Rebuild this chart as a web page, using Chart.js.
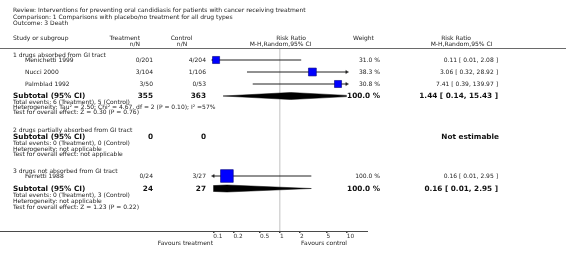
<!DOCTYPE html>
<html>
<head>
<meta charset="utf-8">
<script src="https://cdn.jsdelivr.net/npm/chart.js@4"></script>
<style>
  html, body { margin: 0; padding: 0; background: #fff; }
  #wrap { position: relative; width: 566px; height: 261px; overflow: hidden;
          font-family: "DejaVu Sans", sans-serif; color: #222; }
  #plot { position: absolute; left: 0; top: 0; }
  .t { position: absolute; white-space: nowrap; font-size: 6px; line-height: 1; }
  .b { font-weight: bold; font-size: 7.3px; color: #111; }
  .rule { position: absolute; left: 0; height: 1px; }
</style>
</head>
<body>
<div id="wrap">
  <canvas id="plot" width="566" height="261"></canvas>
</div>
<script>
// ---- data ----
const titleLines = [
  'Review:  Interventions for preventing oral candidiasis for patients with cancer receiving treatment',
  'Comparison:  1 Comparisons with placebo/no treatment for all drug types',
  'Outcome:  3 Death'
];
const groups = ['1 drugs absorbed from GI tract', '2 drugs partially absorbed from GI tract', '3 drugs not absorbed from GI tract'];

const studies = ['Menichetti 1999', 'Nucci 2000', 'Palmblad 1992', 'Ferretti 1988'];
const treatEvents = [0, 3, 3, 0];
const treatTotal = [201, 104, 50, 24];
const ctrlEvents = [4, 1, 0, 3];
const ctrlTotal = [204, 106, 53, 27];
const weights = [31.0, 38.3, 30.8, 100.0];
const riskRatio = [0.11, 3.06, 7.41, 0.16];
const ciLow = [0.01, 0.32, 0.39, 0.01];
const ciHigh = [2.08, 28.92, 139.97, 2.95];

const subTreatTotal = [355, 0, 24];
const subCtrlTotal = [363, 0, 27];
const subTreatEvents = [6, 0, 0];
const subCtrlEvents = [5, 0, 3];
const subWeight = [100.0, null, 100.0];
const subRR = [1.44, null, 0.16];
const subLow = [0.14, null, 0.01];
const subHigh = [15.43, null, 2.95];
const heterogeneity = [
  'Heterogeneity: Tau\u00b2 = 2.50; Chi\u00b2 = 4.67, df = 2 (P = 0.10); I\u00b2 =57%',
  'Heterogeneity: not applicable',
  'Heterogeneity: not applicable'
];
const overallEffect = [
  'Test for overall effect: Z = 0.30 (P = 0.76)',
  'Test for overall effect: not applicable',
  'Test for overall effect: Z = 1.23 (P = 0.22)'
];
const axisTicks = [0.1, 0.2, 0.5, 1, 2, 5, 10];
const favours = ['Favours treatment', 'Favours control'];

// ---- layout (row centres in px, column anchors) ----
const W = 566;
const titleY = [10, 16.5, 23];
const headY = [38, 44];
const groupY = [55, 130, 171];
const studyY = [60, 72, 84, 176];
const subY = [96, 136.5, 188.5];
const eventsY = [102, 143, 195];
const hetY = [107, 148.5, 201];
const testY = [112, 154, 207];
const AXIS_Y = 231;
const X_MIN = 0.1, X_MAX = 10;
const FS = 6, FSB = 7.3;
const BOX_MAX = 12.7;   // side of a 100% weight box
const DIA_H = 3.5;      // half height of diamonds

const wrap = document.getElementById('wrap');

function put(text, x, yc, align, bold) {
  const el = document.createElement('div');
  el.className = bold ? 't b' : 't';
  el.textContent = text;
  const size = bold ? FSB : FS;
  el.style.top = (yc - 0.48 * size) + 'px';
  if (align === 'right') {
    el.style.right = (W - x) + 'px';
  } else if (align === 'center') {
    el.style.left = x + 'px';
    el.style.transform = 'translateX(-50%)';
  } else {
    el.style.left = x + 'px';
  }
  wrap.appendChild(el);
}

function rule(y, width, color) {
  const d = document.createElement('div');
  d.className = 'rule';
  d.style.top = y + 'px';
  d.style.width = width + 'px';
  d.style.background = color;
  wrap.appendChild(d);
}

const fmt = v => v.toFixed(2);
const ciText = (rr, lo, hi) => `${fmt(rr)} [ ${fmt(lo)}, ${fmt(hi)} ]`;

// title + header
titleLines.forEach((s, i) => put(s, 13, titleY[i], 'left'));
put('Study or subgroup', 13, headY[0], 'left');
put('Treatment', 140, headY[0], 'right');
put('n/N', 140, headY[1], 'right');
put('Control', 181.5, headY[0], 'center');
put('n/N', 182, headY[1], 'center');
put('Risk Ratio', 291, headY[0], 'center');
put('M-H,Random,95% CI', 280.5, headY[1], 'center');
put('Weight', 363.5, headY[0], 'center');
put('Risk Ratio', 456, headY[0], 'center');
put('M-H,Random,95% CI', 461.5, headY[1], 'center');
rule(48, W, '#6a6a6a');

// study rows
studies.forEach((s, i) => {
  const y = studyY[i];
  put(s, 25, y, 'left');
  put(`${treatEvents[i]}/${treatTotal[i]}`, 153, y, 'right');
  put(`${ctrlEvents[i]}/${ctrlTotal[i]}`, 206, y, 'right');
  put(`${weights[i].toFixed(1)} %`, 380, y, 'right');
  put(ciText(riskRatio[i], ciLow[i], ciHigh[i]), 498, y, 'right');
});

// group blocks
groups.forEach((g, k) => {
  put(g, 13, groupY[k], 'left');
  put('Subtotal (95% CI)', 13, subY[k], 'left', true);
  put(String(subTreatTotal[k]), 153, subY[k], 'right', true);
  put(String(subCtrlTotal[k]), 206, subY[k], 'right', true);
  if (subRR[k] !== null) {
    put(`${subWeight[k].toFixed(1)} %`, 380, subY[k], 'right', true);
    put(ciText(subRR[k], subLow[k], subHigh[k]), 498, subY[k], 'right', true);
  } else {
    put('Not estimable', 499, subY[k], 'right', true);
  }
  put(`Total events: ${subTreatEvents[k]} (Treatment), ${subCtrlEvents[k]} (Control)`, 13, eventsY[k], 'left');
  put(heterogeneity[k], 13, hetY[k], 'left');
  put(overallEffect[k], 13, testY[k], 'left');
});

rule(AXIS_Y, 368, '#4a4a4a');
put(favours[0], 213, 242.5, 'right');
put(favours[1], 347, 242.5, 'right');

// ---- chart ----
const datasets = [];

// confidence interval whiskers
studies.forEach((s, i) => {
  datasets.push({
    type: 'line',
    data: [{ x: ciLow[i], y: studyY[i] }, { x: ciHigh[i], y: studyY[i] }],
    borderColor: '#222',
    borderWidth: 1,
    pointRadius: 0,
    order: 3
  });
});

// arrows where the interval leaves the axis range
const arrowPts = [];
const arrowRot = [];
studies.forEach((s, i) => {
  if (ciHigh[i] > X_MAX) { arrowPts.push({ x: X_MAX, y: studyY[i] }); arrowRot.push(90); }
  if (ciLow[i] < X_MIN) { arrowPts.push({ x: X_MIN, y: studyY[i] }); arrowRot.push(-90); }
});
datasets.push({
  type: 'scatter',
  data: arrowPts,
  pointStyle: 'triangle',
  rotation: arrowRot,
  pointRadius: 1.8,
  backgroundColor: '#222',
  borderColor: '#222',
  borderWidth: 0.5,
  clip: false,
  order: 2
});

// study boxes, area by weight
datasets.push({
  type: 'scatter',
  data: studies.map((s, i) => ({ x: riskRatio[i], y: studyY[i] })),
  pointStyle: 'rect',
  pointRadius: weights.map(w => BOX_MAX * Math.sqrt(w / 100) / Math.SQRT2),
  backgroundColor: '#0000ff',
  borderColor: '#00007a',
  borderWidth: 0.6,
  clip: false,
  order: 0
});

// subtotal diamonds
groups.forEach((g, k) => {
  if (subRR[k] === null) return;
  const y = subY[k];
  datasets.push({
    type: 'line',
    data: [
      { x: subLow[k], y: y },
      { x: subRR[k], y: y - DIA_H },
      { x: subHigh[k], y: y },
      { x: subRR[k], y: y + DIA_H },
      { x: subLow[k], y: y }
    ],
    fill: 'shape',
    backgroundColor: '#000',
    borderColor: '#000',
    borderWidth: 0.5,
    pointRadius: 0,
    tension: 0,
    order: 1
  });
});

new Chart(document.getElementById('plot'), {
  type: 'scatter',
  data: { datasets: datasets },
  options: {
    responsive: false,
    animation: false,
    events: [],
    layout: { padding: { left: 213.3, right: W - 346.7, top: 49, bottom: 261 - AXIS_Y - 10 } },
    plugins: { legend: { display: false }, tooltip: { enabled: false } },
    scales: {
      x: {
        type: 'logarithmic',
        min: X_MIN,
        max: X_MAX,
        border: { display: false },
        grid: {
          color: c => (c.tick && c.tick.value === 1) ? '#d6d6d6' : 'rgba(0,0,0,0)',
          lineWidth: 1.5,
          tickColor: '#444',
          tickLength: 2,
          drawOnChartArea: true
        },
        ticks: {
          autoSkip: false,
          maxRotation: 0,
          minRotation: 0,
          align: 'start',
          padding: 0,
          color: '#333',
          font: { family: 'DejaVu Sans', size: 5.8 },
          callback: v => String(v)
        },
        afterBuildTicks: ax => { ax.ticks = axisTicks.map(v => ({ value: v })); },
        afterFit: ax => { ax.height = 10; }
      },
      y: { type: 'linear', min: 49, max: AXIS_Y, reverse: true, display: false }
    }
  }
});
</script>
</body>
</html>
